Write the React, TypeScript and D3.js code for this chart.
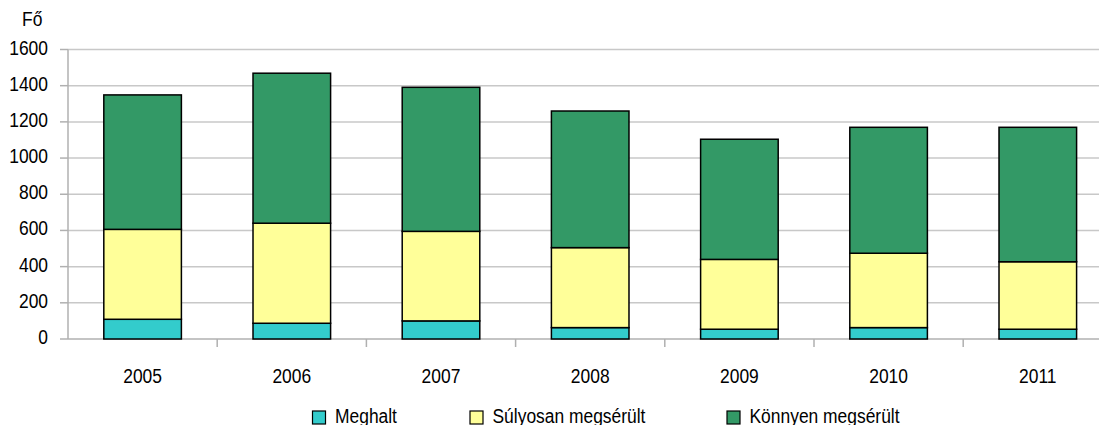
import React from "react";
import * as d3 from "d3";

const years = ["2005", "2006", "2007", "2008", "2009", "2010", "2011"];
const meghalt = [109, 87, 100, 63, 54, 63, 54];
const sulyosan = [497, 553, 495, 442, 386, 411, 373];
const konnyen = [743, 829, 796, 755, 664, 696, 743];
const seriesNames = ["Meghalt", "Súlyosan megsérült", "Könnyen megsérült"];
const seriesColors = ["#33CCCC", "#FFFF99", "#339966"];
const yTicks = [0, 200, 400, 600, 800, 1000, 1200, 1400, 1600];

const W = 1099;
const H = 425;
const left = 68;
const step = 149.2;
const FS = 21;
const SX = 0.83;

function T({ x, y, anchor, children }: { x: number; y: number; anchor?: string; children: any }) {
  return (
    <text transform={`translate(${x},${y}) scale(${SX},1)`} textAnchor={anchor || "start"} fontSize={FS} fill="#000">
      {children}
    </text>
  );
}

export default function App() {
  const x = d3
    .scaleBand<string>()
    .domain(years)
    .range([left, left + step * years.length])
    .paddingInner(0.48)
    .paddingOuter(0.24);
  const y = d3.scaleLinear().domain([0, 1600]).range([339, 49.5]);

  const rows = years.map((yr, i) => ({ year: yr, m: meghalt[i], s: sulyosan[i], k: konnyen[i] }));
  const stack = d3.stack<any>().keys(["m", "s", "k"])(rows);

  const font = "'Liberation Sans', Arial, sans-serif";
  const legendX = [312.5, 470, 727];

  return (
    <svg
      width={W}
      height={H}
      style={{ position: "absolute", left: 0, top: 0, display: "block", background: "#fff" }}
      fontFamily={font}
    >
      {yTicks.map((t) => (
        <g key={t}>
          {t > 0 && (
            <line x1={left} x2={W} y1={y(t)} y2={y(t)} stroke="#c8c8c8" strokeWidth={1.5} />
          )}
          <line x1={left - 8} x2={left} y1={y(t)} y2={y(t)} stroke="#b0b0b0" strokeWidth={1.5} />
          <T x={48} y={y(t) + 5} anchor="end">
            {t}
          </T>
        </g>
      ))}
      <line x1={left} x2={left} y1={y(1600)} y2={y(0)} stroke="#b0b0b0" strokeWidth={1.5} />
      <line x1={left} x2={W} y1={y(0)} y2={y(0)} stroke="#b0b0b0" strokeWidth={1.5} />
      {years.map((yr, i) => {
        const xt = left + step * (i + 1);
        return <line key={yr} x1={xt} x2={xt} y1={y(0)} y2={y(0) + 8} stroke="#b0b0b0" strokeWidth={1.5} />;
      })}
      {stack.map((layer, li) => (
        <g key={li}>
          {layer.map((d: any, i: number) => (
            <rect
              key={i}
              x={x(years[i])}
              width={x.bandwidth()}
              y={y(d[1])}
              height={y(d[0]) - y(d[1])}
              fill={seriesColors[li]}
              stroke="#000"
              strokeWidth={1.5}
            />
          ))}
        </g>
      ))}
      {years.map((yr) => (
        <T key={yr} x={(x(yr) as number) + x.bandwidth() / 2} y={383} anchor="middle">
          {yr}
        </T>
      ))}
      <T x={22} y={26}>
        Fő
      </T>
      {seriesNames.map((n, i) => (
        <g key={n}>
          <rect x={legendX[i]} y={411} width={13} height={13} fill={seriesColors[i]} stroke="#000" strokeWidth={1.2} />
          <T x={legendX[i] + 22.5} y={423}>
            {n}
          </T>
        </g>
      ))}
    </svg>
  );
}
